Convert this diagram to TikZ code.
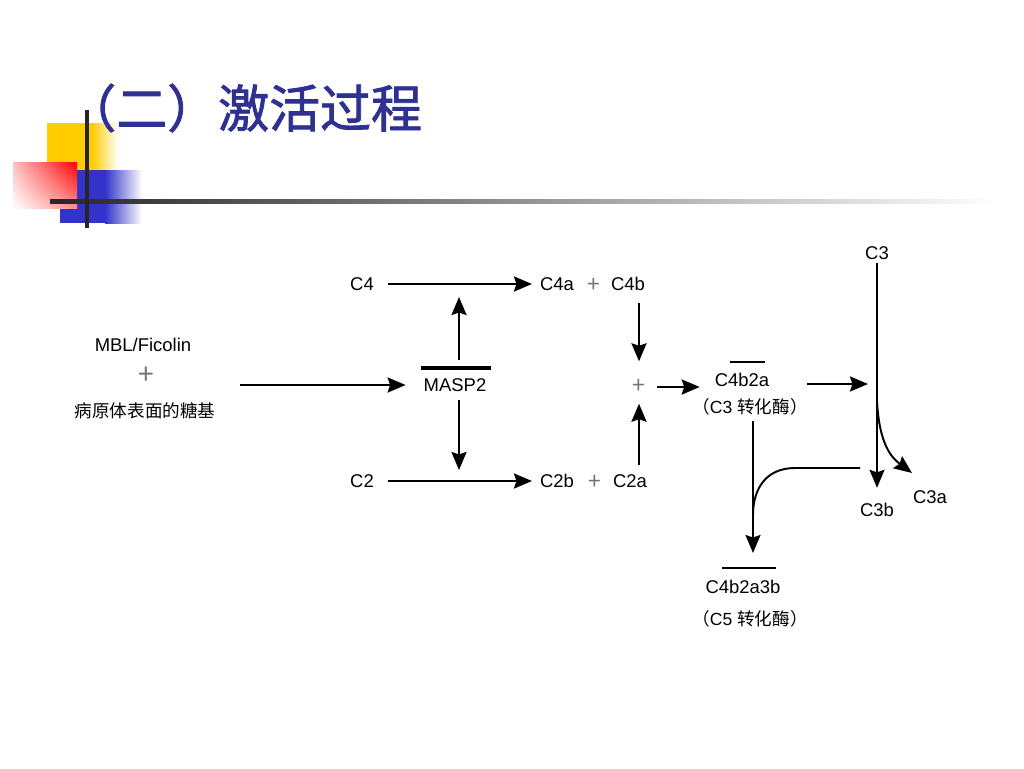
\documentclass[tikz,border=0pt]{standalone}
\usepackage{fontspec}
\setmainfont{Liberation Sans}
\newfontfamily\cjk{Noto Sans CJK SC}
\newfontfamily\cjkt[FakeBold=1.6]{Noto Sans CJK SC}
\usetikzlibrary{arrows.meta,shadings}
\definecolor{titleblue}{RGB}{46,49,146}
\definecolor{decoyellow}{RGB}{255,204,0}
\definecolor{decoblue}{RGB}{51,51,204}
\tikzset{
  lbl/.style={font=\fontsize{10.5}{12}\selectfont, inner sep=1pt, text height=7.5pt, text depth=0pt},
  zh/.style={font=\fontsize{10}{12}\selectfont, inner sep=1pt},
  pl/.style={lbl, font=\fontsize{13}{13}\selectfont\cjk, text=black!55},
  arr/.style={line width=1.4pt, -{Stealth[length=0.36cm, width=0.3cm, inset=0.05cm]}, shorten <=0.24cm, shorten >=0.12cm},
  curv/.style={line width=1.1pt},
  ovl/.style={line width=0.8pt}
}
\begin{document}
\begin{tikzpicture}[x=0.02cm, y=-0.02cm]
  \useasboundingbox[fill=white] (0,0) rectangle (1024,768);
  \begin{scope}
    \fill[decoyellow] (47,123) rectangle (92,170);
    \shade[left color=decoyellow, right color=white] (92,123) rectangle (118,170);
    \fill[decoblue] (60,170) rectangle (105,223);
    \shade[left color=decoblue, right color=white] (105,170) rectangle (142,223);
    \shade[upper right=red, lower left=white, upper left=red!25, lower right=red!45] (13,162) rectangle (77,208);
    \shade[left color=black!85, middle color=black!60, right color=white] (50,199.5) rectangle (1000,203);
    \draw[line width=1.8pt, black!85] (87,110) -- (87,228);
    \node[font=\fontsize{29}{32}\selectfont\cjkt, text=titleblue, anchor=west, inner sep=0pt] (title) at (65,108) {（二）激活过程};
  \end{scope}

  \node[lbl] (mbl) at (143,345) {MBL/Ficolin};
  \node[pl, font=\fontsize{16}{16}\selectfont\cjk] (plusL) at (146,378) {+};
  \node[zh] (sugar) at (145,411) {\cjk 病原体表面的糖基};
  \node[lbl] (masp) at (455,385) {MASP2};
  \node[lbl] (C4) at (362,284) {C4};
  \node[lbl] (C4a) at (557,284) {C4a};
  \node[pl] (plus4) at (594,286) {+};
  \node[lbl] (C4b) at (628,284) {C4b};
  \node[lbl] (C2) at (362,481) {C2};
  \node[lbl] (C2b) at (557,481) {C2b};
  \node[pl] (plus2) at (595,483) {+};
  \node[lbl] (C2a) at (630,481) {C2a};
  \node[pl] (pc) at (639,387) {+};
  \node[lbl] (C4b2a) at (742,380) {C4b2a};
  \node[zh] (conv3) at (750,407) {{\cjk （}C3 {\cjk 转化酶）}};
  \node[lbl] (C3) at (877,253) {C3};
  \node[lbl] (C3b) at (877,510) {C3b};
  \node[lbl] (C3a) at (930,497) {C3a};
  \node[lbl] (C4b2a3b) at (743,587) {C4b2a3b};
  \node[zh] (conv5) at (750,619) {{\cjk （}C5 {\cjk 转化酶）}};

  \draw[line width=2.2pt] ([xshift=-0.01cm, yshift=0.17cm]masp.north west) -- ([xshift=0.05cm, yshift=0.17cm]masp.north east);
  \draw[ovl] ([xshift=0.34cm, yshift=0.19cm]C4b2a.north west) -- ([xshift=-0.12cm, yshift=0.19cm]C4b2a.north east);
  \draw[ovl] ([xshift=0.38cm, yshift=0.21cm]C4b2a3b.north west) -- ([xshift=-0.14cm, yshift=0.21cm]C4b2a3b.north east);

  \coordinate (cut4) at (459,284);
  \coordinate (cut2) at (459,481);
  \coordinate (hit) at (868,384);
  \coordinate (split) at (877,400);
  \coordinate (c3aend) at (912,473);
  \coordinate (drop) at (753,553);
  \coordinate (c3side) at (860,468);
  \coordinate (join) at (753,515);

  \draw[arr, shorten <=0.46cm, shorten >=0.32cm] (masp.west -| sugar.east) -- (masp.west);
  \draw[arr] (C4) -- (C4a);
  \draw[arr] (C2) -- (C2b);
  \draw[arr, shorten <=0.33cm, shorten >=0.26cm] (cut4 |- masp.north) -- (cut4);
  \draw[arr, shorten <=0.13cm, shorten >=0.22cm] (cut2 |- masp.south) -- (cut2);
  \draw[arr, shorten <=0.21cm, shorten >=0.34cm] (C4b.south -| pc) -- (pc);
  \draw[arr, shorten <=0.15cm, shorten >=0.16cm] (C2a.north -| pc) -- (pc);
  \draw[arr, shorten <=0.19cm, shorten >=0.26cm] (pc) -- (pc -| C4b2a.west);
  \draw[arr, shorten <=0.72cm, shorten >=0cm] (hit -| C4b2a.east) -- (hit);
  \draw[arr, line width=1.1pt, shorten <=0.03cm, shorten >=0.27cm] (C3) -- (C3b);
  \draw[arr, line width=1.1pt, shorten <=0cm, shorten >=0cm] (split) .. controls (879,445) and (892,458) .. (c3aend);
  \draw[arr, line width=1.1pt, shorten <=0.08cm, shorten >=0cm] (conv3.south -| drop) -- (drop);
  \draw[curv] (c3side) -- (795,468) .. controls (765,468) and (753,490) .. (join);
\end{tikzpicture}
\end{document}
